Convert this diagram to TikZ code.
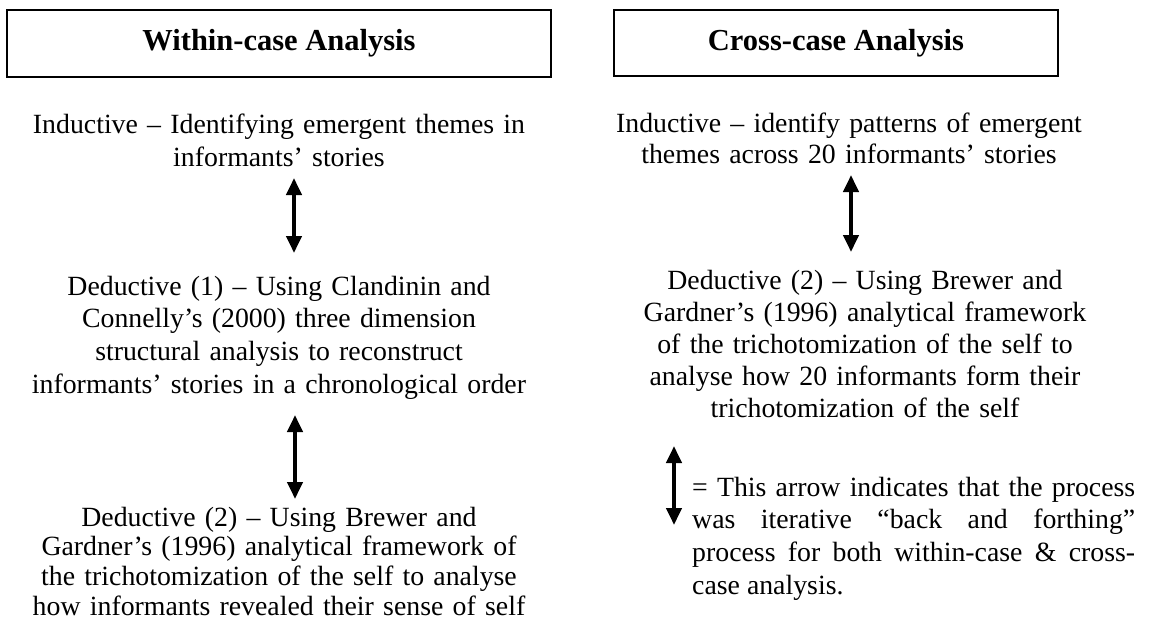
\documentclass[tikz,border=0pt]{standalone}
\usepackage{fontspec}
\setmainfont{Liberation Serif}
\usetikzlibrary{arrows.meta,calc}

\begin{document}
\begin{tikzpicture}[x=1pt,y=-1pt,
  header/.style={draw, line width=1.4pt, inner sep=0pt,
    font=\fontsize{30.5}{36}\selectfont\bfseries},
  block/.style={inner sep=0pt, anchor=base, align=center, text width=#1},
  twoway/.style={line width=4pt,
    {Triangle[length=17pt,width=15pt]}-{Triangle[length=17pt,width=15pt]}},
]
\useasboundingbox (0,0) rectangle (1151,623);

% column headers
\node[header, minimum width=544pt, minimum height=67pt] (hwithin) at (279,43.5) {Within-case Analysis};
\node[header, minimum width=444pt, minimum height=66pt] (hcross) at (836,43) {Cross-case Analysis};

% within-case column
\node[block=544pt, font=\fontsize{27.8}{33}\selectfont] (lind) at (279,134)
  {Inductive – Identifying emergent themes in\\informants’ stories};
\node[block=544pt, font=\fontsize{27.8}{32.7}\selectfont] (lded1) at (279,295)
  {Deductive (1) – Using Clandinin and\\Connelly’s (2000) three dimension\\structural analysis to reconstruct\\informants’ stories in a chronological order};
\node[block=544pt, font=\fontsize{27.8}{29.8}\selectfont] (lded2) at (279,526)
  {Deductive (2) – Using Brewer and\\Gardner’s (1996) analytical framework of\\the trichotomization of the self to analyse\\how informants revealed their sense of self};

% cross-case column
\node[block=500pt, font=\fontsize{27.8}{32}\selectfont] (rind) at (849,132)
  {Inductive – identify patterns of emergent\\themes across 20 informants’ stories};
\node[block=500pt, font=\fontsize{27.8}{32.2}\selectfont] (rded) at (865,289)
  {Deductive (2) – Using Brewer and\\Gardner’s (1996) analytical framework\\of the trichotomization of the self to\\analyse how 20 informants form their\\trichotomization of the self};

% legend
\node[inner sep=0pt, anchor=base west, align=justify, text width=443pt,
  font=\fontsize{27.8}{32.7}\selectfont] (legend) at (692,496)
  {= This arrow indicates that the process\linebreak was iterative “back and forthing”\linebreak process for both within-case \& cross-\linebreak case analysis.};

% iterative links
\draw[twoway] ($(lind.base)+(15,44)$) -- ($(lded1.base)+(15,-42)$);
\draw[twoway] ($(lded1.base)+(16,120)$) -- ($(lded2.base)+(16,-27)$);
\draw[twoway] ($(rind.base)+(2,43)$) -- ($(rded.base)+(-14,-37)$);
\draw[twoway] ($(legend.base west)+(-18,-50)$) -- ($(legend.base west)+(-18,29)$);
\end{tikzpicture}
\end{document}
